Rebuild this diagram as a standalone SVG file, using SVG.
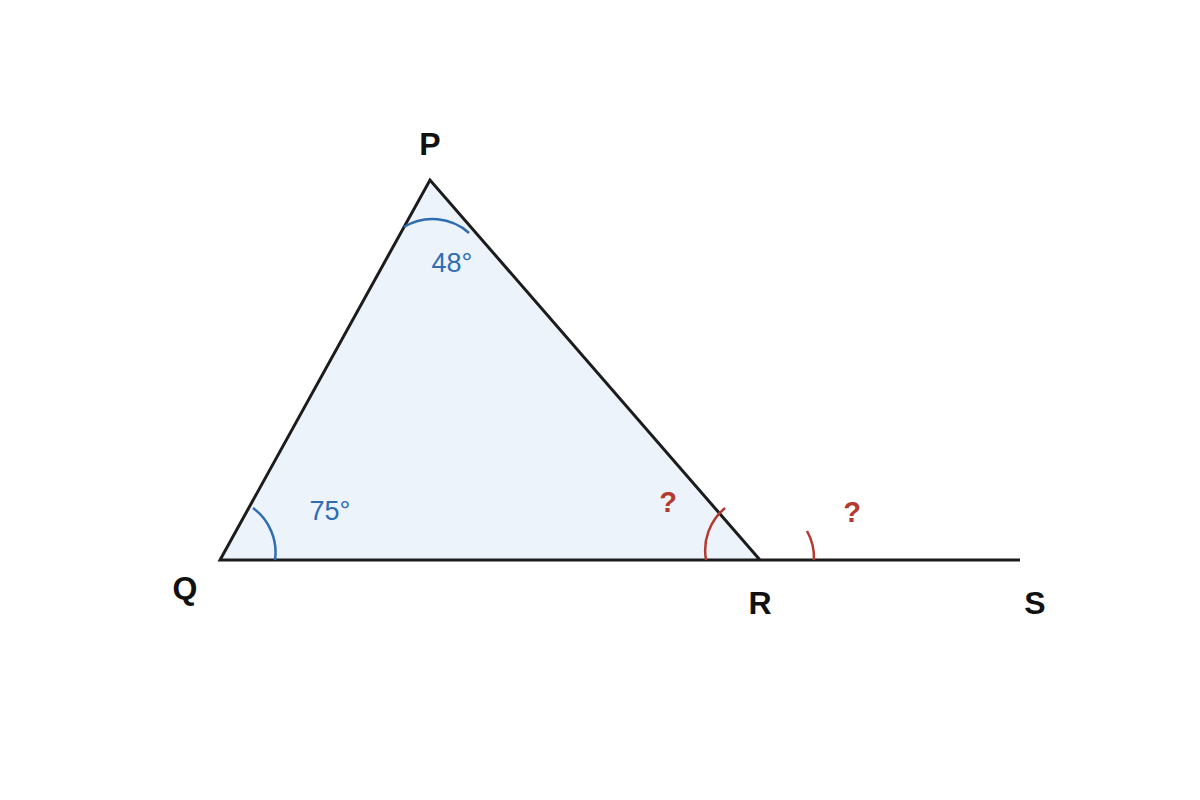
<svg xmlns="http://www.w3.org/2000/svg" width="1200" height="800" viewBox="0 0 1200 800">
<style>
.edge{fill:none;stroke:#1c1c1c;stroke-width:3;stroke-linejoin:miter}
.arcb{fill:none;stroke:#2f6db3;stroke-width:2.5}
.arcr{fill:none;stroke:#b43a2f;stroke-width:2.5}
.lbl{font-family:"Liberation Sans",Arial,sans-serif;font-weight:bold;font-size:32px;fill:#111;text-anchor:middle}
.ang{font-family:"Liberation Sans",Arial,sans-serif;font-size:27px;fill:#2f6db3;text-anchor:middle}
.q{font-family:"Liberation Sans",Arial,sans-serif;font-weight:bold;font-size:29px;fill:#b43a2f;text-anchor:middle}
</style>
<rect width="1200" height="800" fill="#ffffff"/>
<g id="triangle">
<polygon points="430,180 220,560 760,560" fill="#edf3fb" stroke="none"/>
</g>
<g id="connectors">
<polyline class="edge" points="760,560 430,180 220,560 1020,560"/>
</g>
<g id="angle-P">
<path class="arcb" d="M404,227 A55,55 0 0 1 469,233"/>
<text class="ang" x="452" y="272">48°</text>
</g>
<g id="angle-Q">
<path class="arcb" d="M253,508 A55,55 0 0 1 275,560"/>
<text class="ang" x="330" y="520">75°</text>
</g>
<g id="angle-R">
<path class="arcr" d="M706,560 A55,55 0 0 1 725,508"/>
<text class="q" x="668" y="512">?</text>
</g>
<g id="angle-ext">
<path class="arcr" d="M807,531 A55,55 0 0 1 814,560"/>
<text class="q" x="852" y="522">?</text>
</g>
<g id="label-P"><text class="lbl" x="430" y="155">P</text></g>
<g id="label-Q"><text class="lbl" x="185" y="599">Q</text></g>
<g id="label-R"><text class="lbl" x="760" y="614">R</text></g>
<g id="label-S"><text class="lbl" x="1035" y="614">S</text></g>
</svg>
